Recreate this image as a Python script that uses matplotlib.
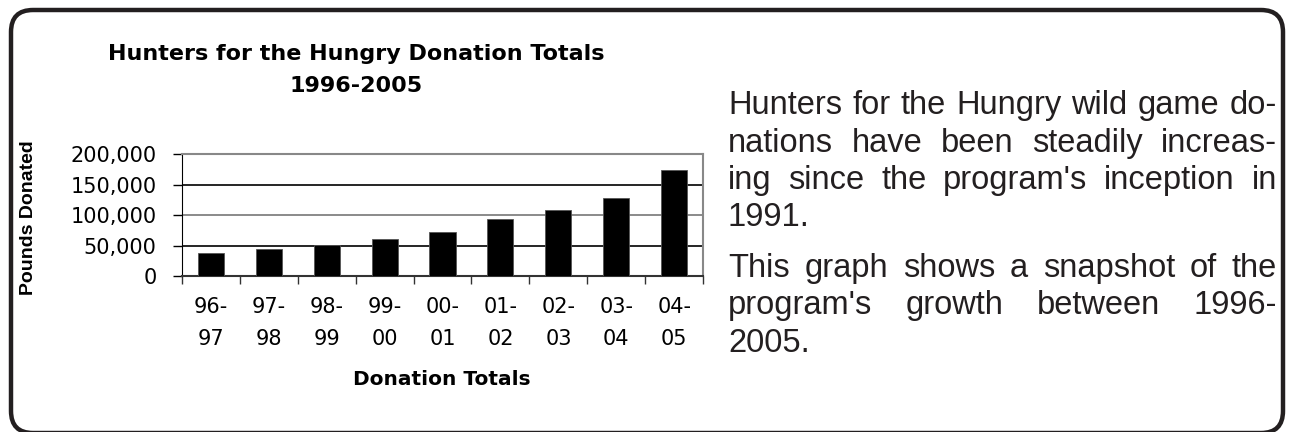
import matplotlib.pyplot as plt
from matplotlib.patches import FancyBboxPatch
from matplotlib.ticker import FuncFormatter

plt.rcParams['font.family'] = ['DejaVu Sans']

seasons = ["96-\n97", "97-\n98", "98-\n99", "99-\n00", "00-\n01",
           "01-\n02", "02-\n03", "03-\n04", "04-\n05"]
pounds = [38200, 44800, 50800, 60100, 71800, 93000, 107700, 129000, 174900]
y_ticks = [0, 50000, 100000, 150000, 200000]

para1 = ["Hunters for the Hungry wild game do-",
         "nations have been steadily increas-",
         "ing since the program's inception in",
         "1991."]
para2 = ["This graph shows a snapshot of the",
         "program's growth between 1996-",
         "2005."]

W, H = 1292, 432
fig = plt.figure(figsize=(W / 100, H / 100), dpi=100)

# background axes in pixel units, used for the rounded page border
bg = fig.add_axes([0, 0, 1, 1], zorder=-1)
bg.set_xlim(0, W)
bg.set_ylim(H, 0)
bg.axis("off")
bg.add_patch(FancyBboxPatch((11, 10), 1272, 423,
                            boxstyle="round,pad=0,rounding_size=22",
                            fill=False, edgecolor="#231f20", linewidth=3.2,
                            clip_on=False))

ax = fig.add_axes([181.7 / W, 1 - 276 / H, 521.6 / W, 121.7 / H])
x = range(len(seasons))
ax.bar(x, pounds, width=0.45, color="black", edgecolor="#555555",
       linewidth=0.6, zorder=3)
ax.set_xlim(-0.5, len(seasons) - 0.5)
ax.set_ylim(0, 200000)
ax.set_yticks(y_ticks)
ax.yaxis.set_major_formatter(FuncFormatter(lambda v, p: f"{int(v):,}"))
ax.tick_params(axis="y", direction="out", length=6.5, width=1,
               labelsize=15, pad=11.5, colors="black")
ax.set_xticks(list(x))
ax.set_xticklabels(seasons, fontsize=15, linespacing=1.75)
ax.tick_params(axis="x", length=0, pad=15)
ax.set_xticks([i + 0.5 for i in range(-1, len(seasons))], minor=True)
ax.tick_params(axis="x", which="minor", direction="out", length=6,
               width=1, color="#333333")

ax.yaxis.grid(True, zorder=0)
for i, gl in enumerate(ax.get_ygridlines()):
    gl.set_color("black" if i % 2 else "#777777")
    gl.set_linewidth(1.2)

ax.spines["left"].set_color("black")
ax.spines["bottom"].set_color("#333333")
ax.spines["bottom"].set_linewidth(1.5)
for s in ("top", "right"):
    ax.spines[s].set_color("#888888")
    ax.spines[s].set_linewidth(1.5)

fig.text(356 / W, 1 - 60 / H, "Hunters for the Hungry Donation Totals",
         ha="center", va="baseline", fontsize=16, fontweight="bold")
fig.text(356 / W, 1 - 91.5 / H, "1996-2005", ha="center", va="baseline",
         fontsize=16, fontweight="bold")
fig.text(29 / W, 1 - 218 / H, "Pounds Donated", rotation=90, ha="center",
         va="center", fontsize=14, fontweight="bold",
         family=["Liberation Sans", "DejaVu Sans"])
fig.text(442 / W, 1 - 385 / H, "Donation Totals", ha="center",
         va="baseline", fontsize=14.5, fontweight="bold")

# justified body text on the right
body = dict(fontsize=23.5, color="#231f20", va="baseline",
            family=["Liberation Sans", "DejaVu Sans"])
fig.canvas.draw()
r = fig.canvas.get_renderer()
t1 = fig.text(0, 0, "a b", **body)
t2 = fig.text(0, 0, "ab", **body)
space = t1.get_window_extent(r).width - t2.get_window_extent(r).width
t1.remove()
t2.remove()

left, right = 728, 1277
step = 37.3
baseline = 114.3
for para in (para1, para2):
    for k, line in enumerate(para):
        words = line.split()
        items = [fig.text(0, 0, w, **body) for w in words]
        widths = [t.get_window_extent(r).width for t in items]
        if k == len(para) - 1 or len(words) == 1:
            gap = space
        else:
            gap = (right - left - sum(widths)) / (len(words) - 1)
        xpos = left
        for t, w in zip(items, widths):
            t.set_position((xpos / W, 1 - baseline / H))
            xpos += w + gap
        baseline += step
    baseline += 13.5

fig.savefig("out.png", dpi=100)
